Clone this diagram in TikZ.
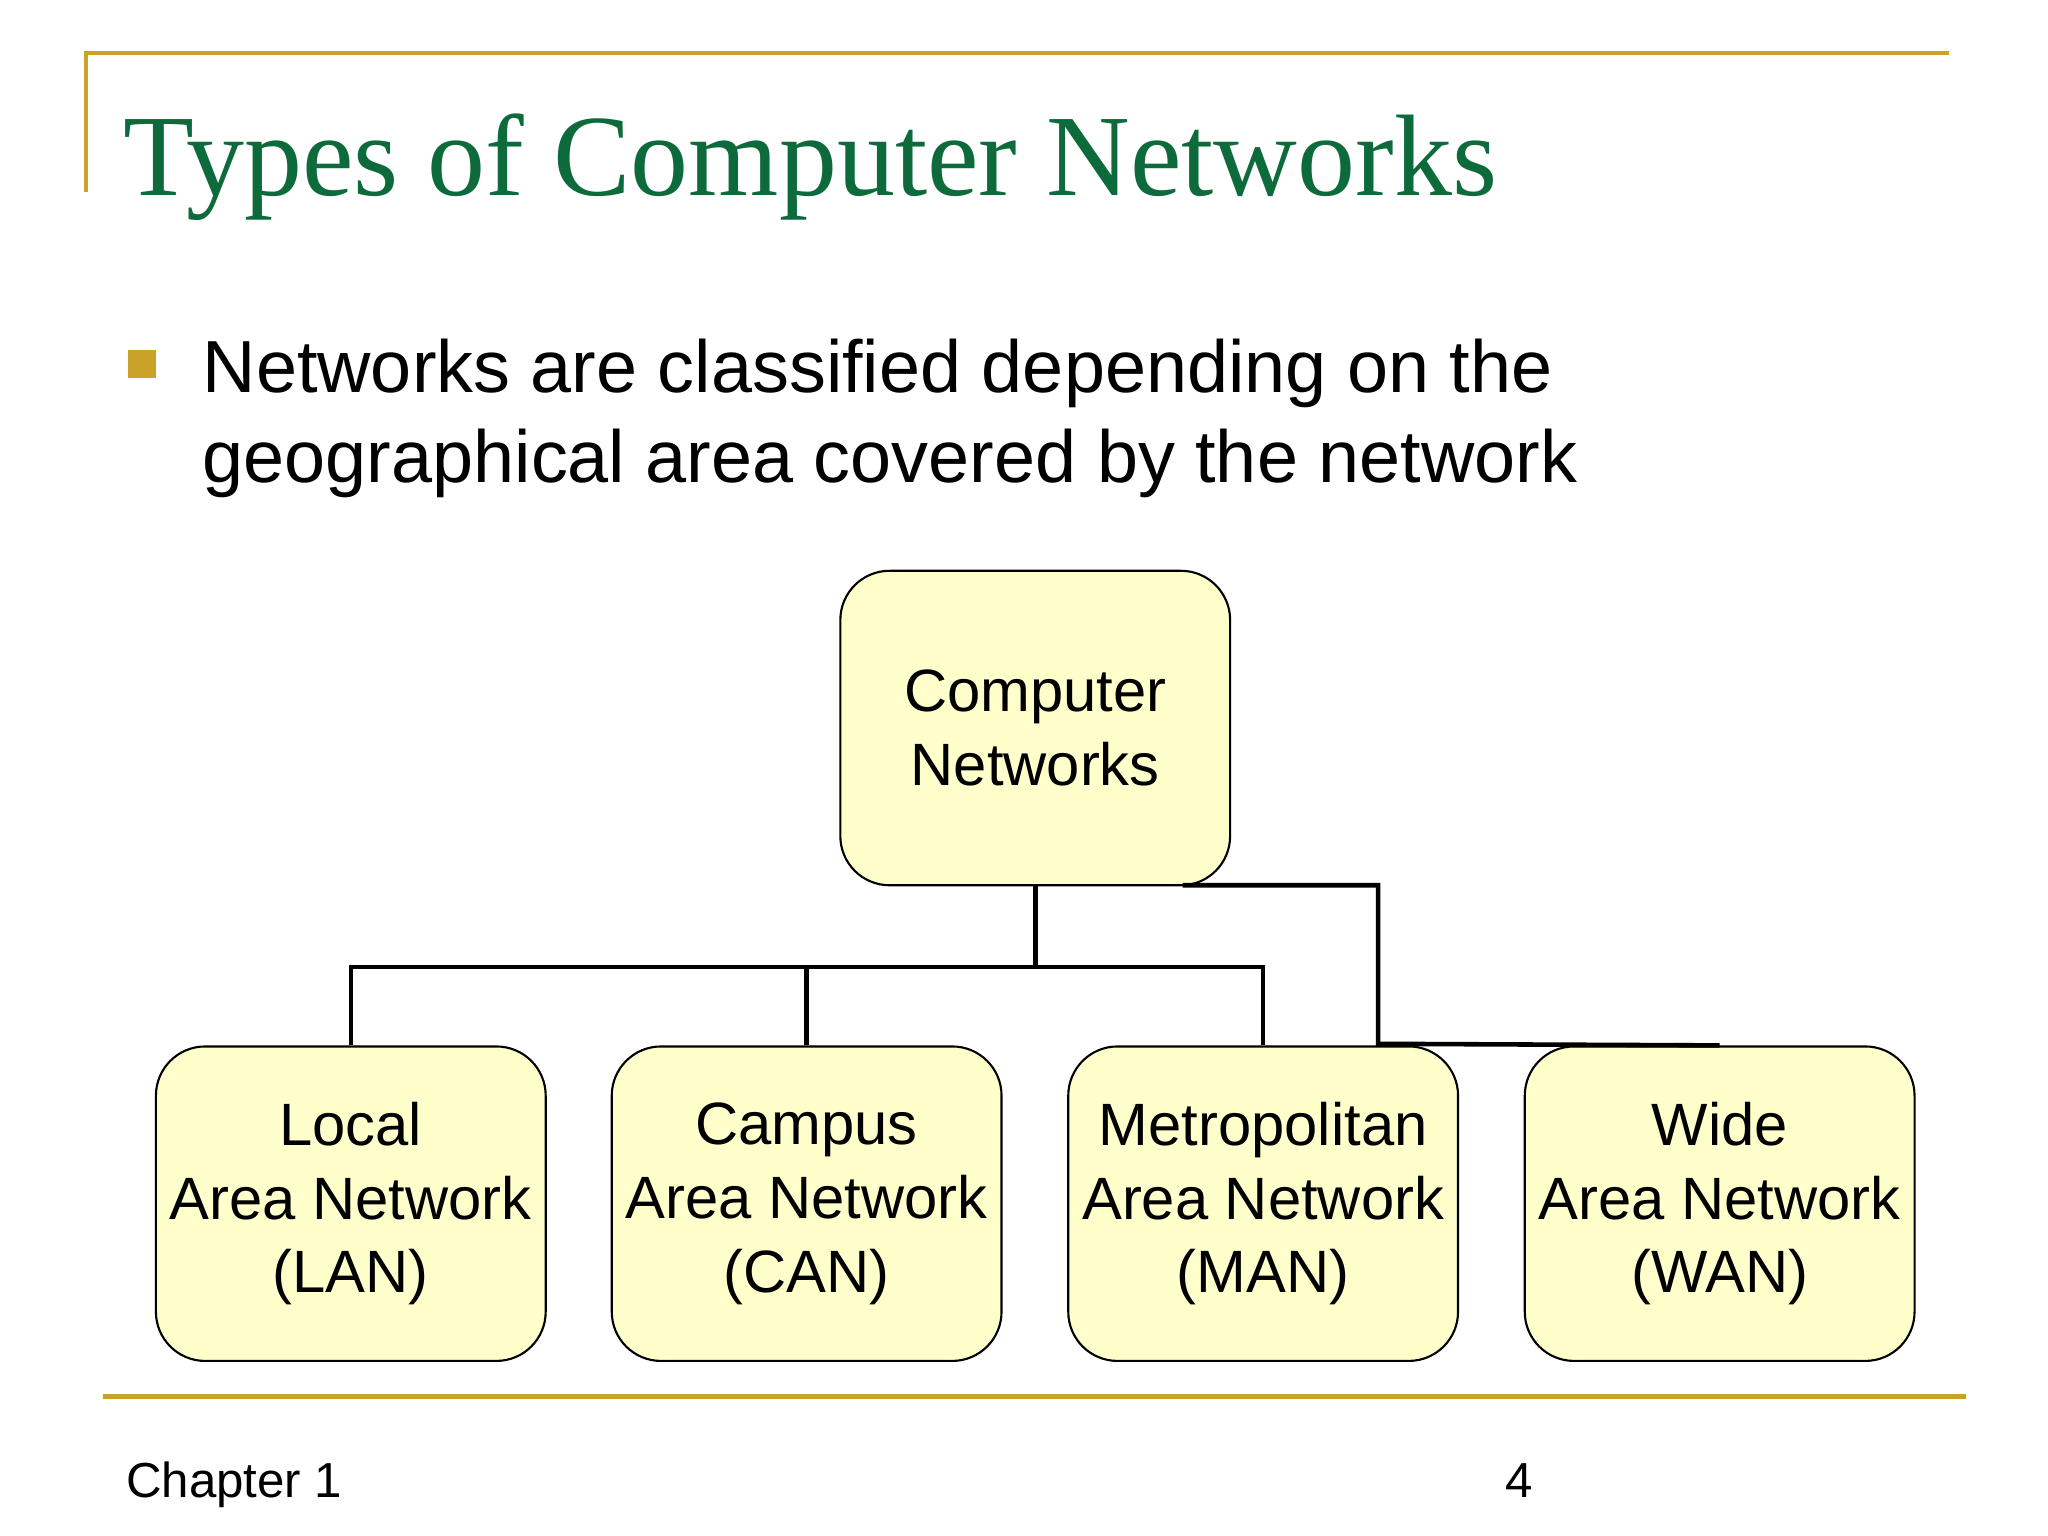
\documentclass[tikz,border=0pt]{standalone}
\usepackage{fontspec}
\setmainfont{Liberation Serif}
\newfontfamily\sans{Liberation Sans}
\definecolor{gold}{HTML}{C9A227}
\definecolor{titlegreen}{HTML}{0D6B3B}
\definecolor{boxfill}{HTML}{FFFFCC}
\begin{document}
\begin{tikzpicture}[x=0.01321cm,y=-0.01321cm,
  box/.style={draw=black, line width=0.6pt, fill=boxfill, rounded corners=14pt,
    minimum width=295*0.01321cm, minimum height=238*0.01321cm,
    align=center, font=\sans\fontsize{17}{21}\selectfont, inner sep=0pt},
  conn/.style={line width=1.3pt}]
\useasboundingbox (0,0) rectangle (1550,1162);
% frame lines
\draw[gold, line width=1.2pt] (65,145) -- (65,40) -- (1475,40);
\draw[gold, line width=1.2pt] (78,1057) -- (1488,1057);
% title and bullet
\node[anchor=base west, inner sep=0pt, text=titlegreen, font=\fontsize{33}{36}\selectfont] (title) at (93,148) {Types of Computer Networks};
\fill[gold] (97,265) rectangle (118,286);
\node[anchor=north west, inner sep=0pt, align=left, font=\sans\fontsize{21}{25.5}\selectfont] (text) at (153,256)
  {Networks are classified depending on the\\geographical area covered by the network};
% boxes
\node[box] (root) at (783.5,551) {Computer\\Networks};
\node[box] (lan) at (265.5,911) {Local\\Area Network\\(LAN)};
\node[box] (can) at (610.5,911) {Campus\\Area Network\\(CAN)};
\node[box] (man) at (956,911) {Metropolitan\\Area Network\\(MAN)};
\node[box] (wan) at (1301.5,911) {Wide\\Area Network\\(WAN)};
% connectors
\coordinate (bus) at (783.5,732);
\draw[conn] (root.south) -- (bus);
\draw[conn] (lan.north) |- (bus) -| (man.north);
\draw[conn] (can.north) -- (can.north |- bus);
\coordinate (r2) at (895,670);
\coordinate (j) at (1043,790);
\draw[conn] (r2) -| (j) -- (wan.north);
% footer
\node[anchor=base west, inner sep=0pt, font=\sans\fontsize{14}{16}\selectfont] (chap) at (95,1133) {Chapter 1};
\node[anchor=base west, inner sep=0pt, font=\sans\fontsize{14}{16}\selectfont] (page) at (1139,1133) {4};
\end{tikzpicture}
\end{document}
